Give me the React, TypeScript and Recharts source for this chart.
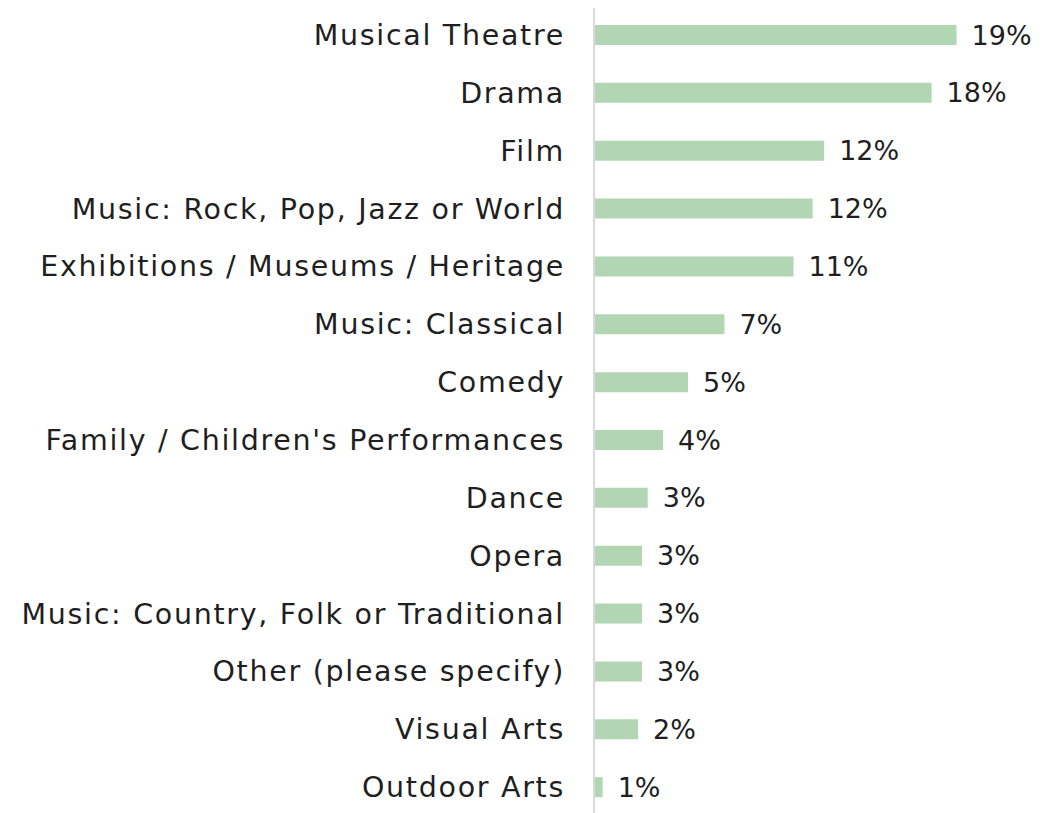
import { BarChart, Bar, XAxis, YAxis, LabelList } from 'recharts';

// Categories, top to bottom
const categories = [
  'Musical Theatre',
  'Drama',
  'Film',
  'Music: Rock, Pop, Jazz or World',
  'Exhibitions / Museums / Heritage',
  'Music: Classical',
  'Comedy',
  "Family / Children's Performances",
  'Dance',
  'Opera',
  'Music: Country, Folk or Traditional',
  'Other (please specify)',
  'Visual Arts',
  'Outdoor Arts',
];

// Share of respondents (%)
const shares = [18.9, 17.6, 12.0, 11.4, 10.4, 6.8, 4.9, 3.6, 2.8, 2.5, 2.5, 2.5, 2.3, 0.45];

// Labels as printed on the chart
const shareLabels = ['19%', '18%', '12%', '12%', '11%', '7%', '5%', '4%', '3%', '3%', '3%', '3%', '2%', '1%'];

const FONT = '"DejaVu Sans", sans-serif';
const BAR_COLOR = '#b2d6b4';
const TEXT_COLOR = '#1f1f1f';

export default function App() {
  const chartData = categories.map((name, i) => ({
    name,
    value: shares[i],
    label: shareLabels[i],
  }));

  return (
    <div style={{ marginTop: -2 }}>
      <BarChart
        width={1045}
        height={812}
        data={chartData}
        layout="vertical"
        margin={{ top: 0, right: 37, bottom: 2, left: 0 }}
      >
        <XAxis type="number" domain={[0, 22]} hide />
        <YAxis
          type="category"
          dataKey="name"
          width={586}
          tickLine={false}
          tickSize={0}
          tickMargin={29}
          axisLine={{ stroke: '#d9d9d9', strokeWidth: 2 }}
          tick={{ fill: TEXT_COLOR, fontSize: 28.5, fontFamily: FONT, letterSpacing: 1.7 }}
          interval={0}
        />
        <Bar dataKey="value" fill={BAR_COLOR} barSize={20} isAnimationActive={false}>
          <LabelList
            dataKey="label"
            position="right"
            offset={15}
            fill={TEXT_COLOR}
            fontSize={27}
            fontFamily={FONT}
          />
        </Bar>
      </BarChart>
    </div>
  );
}
